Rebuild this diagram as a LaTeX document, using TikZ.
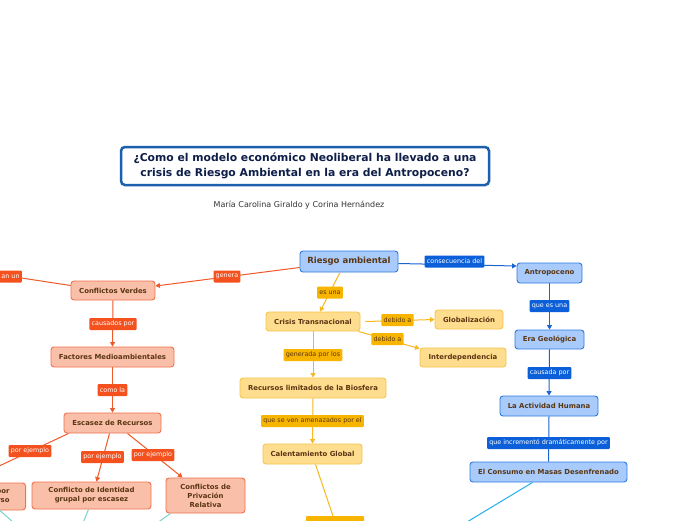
\documentclass[tikz,border=0pt]{standalone}
\usepackage{fontspec}
\setmainfont{DejaVu Sans}
\usetikzlibrary{arrows.meta}
\definecolor{ntext}{HTML}{5A3512}
\definecolor{ttext}{HTML}{0E1E48}
\definecolor{tborder}{HTML}{1B5FAD}
\definecolor{rfill}{HTML}{F9BFA9}
\definecolor{rborder}{HTML}{F2714D}
\definecolor{rlabc}{HTML}{F4511E}
\definecolor{rline}{HTML}{F05A28}
\definecolor{yfill}{HTML}{FEDD8E}
\definecolor{yborder}{HTML}{F8C44A}
\definecolor{ylabc}{HTML}{F8B500}
\definecolor{yline}{HTML}{F8B820}
\definecolor{bfill}{HTML}{A8CBFB}
\definecolor{bborder}{HTML}{2E7BE0}
\definecolor{blabc}{HTML}{0B5FD8}
\definecolor{bline}{HTML}{1A64D0}
\definecolor{teal}{HTML}{7AD3CB}
\definecolor{cyanl}{HTML}{20B0F0}
\begin{document}
\begin{tikzpicture}[x=1pt,y=-1pt,
  base/.style={rounded corners=3pt, line width=0.9pt, font=\bfseries\fontsize{6.9}{9}\selectfont, text=ntext, inner sep=1pt, align=center},
  rnode/.style={base, draw=rborder, fill=rfill},
  ynode/.style={base, draw=yborder, fill=yfill},
  bnode/.style={base, draw=bborder, fill=bfill},
  lab/.style={rounded corners=1pt, inner xsep=2.2pt, inner ysep=0pt, minimum height=12pt, font=\fontsize{6.4}{7}\selectfont},
  rlab/.style={lab, fill=rlabc, text=white},
  ylab/.style={lab, fill=ylabc, text=ntext},
  blab/.style={lab, fill=blabc, text=white},
  tip/.style={-{Triangle[width=5pt,length=4.5pt]}},
  rl/.style={draw=rline, line width=1pt},
  yl/.style={draw=yline, line width=1pt},
  bl/.style={draw=bline, line width=1pt},
]
\useasboundingbox (0,0) rectangle (696,520);
\fill[white] (0,0) rectangle (696,520);

% title
\node[draw=tborder, line width=2.5pt, rounded corners=4pt, fill=white, minimum width=368pt, minimum height=38pt, inner sep=1pt, font=\bfseries\fontsize{10.8}{14.5}\selectfont, text=ttext, align=center] (title) at (305,166) {¿Como el modelo económico Neoliberal ha llevado a una\\crisis de Riesgo Ambiental en la era del Antropoceno?};
\node[font=\fontsize{8}{9}\selectfont, text=black!80] (sub) at (299,205) {María Carolina Giraldo y Corina Hernández};

% main nodes
\node[bnode, minimum width=98pt, minimum height=21pt, font=\bfseries\fontsize{8.5}{10}\selectfont] (riesgo) at (349,261.5) {Riesgo ambiental};
\node[rnode, minimum width=84pt, minimum height=19pt] (cverdes) at (113,290.5) {Conflictos Verdes};
\node[rnode, minimum width=123pt, minimum height=20pt] (factores) at (112.5,357) {Factores Medioambientales};
\node[rnode, minimum width=97pt, minimum height=20pt] (escasez) at (112.5,423) {Escasez de Recursos};
\node[rnode, minimum width=119pt, minimum height=27pt] (identidad) at (91.5,495.5) {Conflicto de Identidad\\grupal por escasez};
\node[rnode, minimum width=79pt, minimum height=35pt] (privacion) at (205.5,495.5) {Conflictos de\\Privación\\Relativa};
\node[rnode, anchor=east, minimum height=27pt, inner xsep=16pt, align=right] (porrso) at (26,496.5) {por\\rso};

\node[ynode, minimum width=94pt, minimum height=19pt] (crisis) at (313,321.5) {Crisis Transnacional};
\node[ynode, minimum width=68pt, minimum height=19pt] (glob) at (469,319.5) {Globalización};
\node[ynode, minimum width=86pt, minimum height=19pt] (interdep) at (463,357.5) {Interdependencia};
\node[ynode, minimum width=146pt, minimum height=20pt] (recursos) at (313,388) {Recursos limitados de la Biosfera};
\node[ynode, minimum width=99pt, minimum height=20pt] (calent) at (312.5,454) {Calentamiento Global};
\node[fill=ylabc, rounded corners=1pt, minimum width=58pt, minimum height=24pt, anchor=north] (bottomy) at (335,516) {};

\node[bnode, minimum width=65pt, minimum height=20pt] (antro) at (549.5,273) {Antropoceno};
\node[bnode, minimum width=69pt, minimum height=19pt] (era) at (549.5,339.5) {Era Geológica};
\node[bnode, minimum width=98pt, minimum height=20pt] (actividad) at (549,406) {La Actividad Humana};
\node[bnode, minimum width=157pt, minimum height=20pt] (consumo) at (548.5,472) {El Consumo en Masas Desenfrenado};

% off-canvas coordinates
\coordinate (offL) at (-40,268.6);
\coordinate (offLL) at (-20,475);
\coordinate (t1) at (14,523);
\coordinate (t2) at (83,523);
\coordinate (t3) at (157,523);
\coordinate (c1) at (462,525);

% connectors
\draw[rl, tip] ([yshift=-6pt]riesgo.west) -- ([yshift=4.5pt]cverdes.east);
\draw[rl] ([yshift=5pt]cverdes.west) -- (offL);
\draw[rl, tip] (cverdes.south) -- (factores.north);
\draw[rl, tip] (factores.south) -- (escasez.north);
\draw[rl] ([xshift=-44pt]escasez.south) -- (offLL);
\draw[rl, tip] ([xshift=-3pt]escasez.south) -- ([xshift=5pt]identidad.north);
\draw[rl, tip] ([xshift=15pt]escasez.south) -- ([xshift=-23pt]privacion.north);
\draw[teal, line width=1pt] ([xshift=-26pt]porrso.south east) -- (t1);
\draw[teal, line width=1pt] ([xshift=-3pt]identidad.south) -- (t2);
\draw[teal, line width=1pt] ([xshift=-35pt]privacion.south) -- (t3);

\draw[yl, tip] ([xshift=-9pt]riesgo.south) -- ([xshift=7pt]crisis.north);
\draw[yl, tip] ([xshift=5pt]crisis.east) -- (glob.west);
\draw[yl, tip] ([xshift=-2pt]crisis.south east) -- ([yshift=-1pt]interdep.north west);
\draw[yl, tip] (crisis.south) -- (recursos.north);
\draw[yl, tip] (recursos.south) -- (calent.north);
\draw[yl] ([xshift=3pt]calent.south) -- ([xshift=-2pt]bottomy.north);

\draw[bl, tip] ([yshift=-2pt]riesgo.east) -- ([yshift=7pt]antro.west);
\draw[bl, tip] (antro.south) -- (era.north);
\draw[bl, tip] (era.south) -- (actividad.north);
\draw[bl] (actividad.south) -- (consumo.north);
\draw[cyanl, line width=1pt] ([xshift=-16pt]consumo.south) -- (c1);

% labels
\node[rlab] (lgenera) at (227,276.5) {genera};
\node[rlab, anchor=east] (lgeneran) at (22,276.5) {an un};
\node[rlab] (lcausados) at (113,324) {causados por};
\node[rlab] (lcomo) at (112.5,390) {como la};
\node[rlab] (lej1) at (30,451) {por ejemplo};
\node[rlab] (lej2) at (102.5,457) {por ejemplo};
\node[rlab] (lej3) at (153,455) {por ejemplo};

\node[ylab] (lesuna) at (330,292.5) {es una};
\node[ylab] (ldeb1) at (397.5,320) {debido a};
\node[ylab] (ldeb2) at (387.5,339) {debido a};
\node[ylab] (lgen) at (313,355) {generada por los};
\node[ylab] (lame) at (312.5,421) {que se ven amenazados por el};

\node[blab] (lcons) at (454.5,261.5) {consecuencia del};
\node[blab] (lque) at (549.5,306) {que es una};
\node[blab] (lcaus) at (549.5,373) {causada por};
\node[blab] (linc) at (548.5,443) {que incrementó dramáticamente por};
\end{tikzpicture}
\end{document}
